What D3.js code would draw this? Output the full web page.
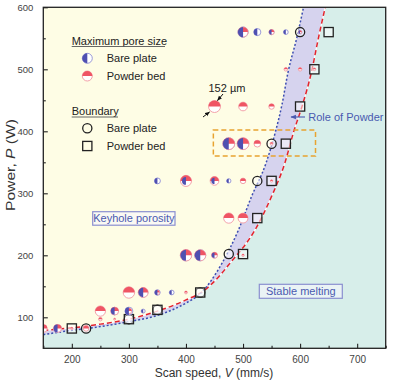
<!DOCTYPE html>
<html><head><meta charset="utf-8">
<script src="https://cdn.jsdelivr.net/npm/d3@7"></script>
<style>body{margin:0;background:#fff}svg{display:block;font-family:"Liberation Sans",Arial,sans-serif}</style>
</head><body><svg id="c" width="400" height="388"></svg>
<script>
// ---- data ----
const xTicks = [200, 300, 400, 500, 600, 700];
const yTicks = [100, 200, 300, 400, 500, 600];
// pore-size points: speed (mm/s), power (W), max pore size (µm) on bare plate / powder bed
const poreSpeed  = [500,525,550,575,600, 575,600,625, 450,500,550, 475,500,525,550, 350,400,450,475,500,550, 475,500, 400,425,450,500, 300,325,350,375,400, 250,275,300,325, 250,275, 150,175,200,225];
const porePower  = [560,560,560,560,560, 500,500,500, 440,440,440, 380,380,380,380, 320,320,320,320,320,320, 260,260, 200,200,200,200, 140,140,140,140,140, 110,110,110,110, 97,97, 82,82,82,82];
const bareSize   = [130,90,65,60,45, 0,0,0, 0,0,0, 150,145,0,0, 75,100,80,55,0,0, 0,0, 140,140,70,0, 0,120,70,60,0, 0,95,100,50, 0,0, 0,100,0,0];
const powderSize = [125,0,65,0,40, 45,45,35, 152,110,70, 150,150,85,35, 0,140,110,0,70,30, 130,125, 145,140,75,30, 145,125,55,0,35, 130,100,70,0, 45,25, 100,100,30,70];
// boundary markers
const bareBoundSpeed = [225,300,350,425,475,525,550,600];
const bareBoundPower = [82,97,112,140,202,320,380,560];
const powderBoundSpeed = [200,300,350,425,500,525,550,575,600,625,650];
const powderBoundPower = [82,97,112,140,202,260,320,380,440,500,560];
// boundary curves
const bareCurveV = [150,200,250,300,350,400,425,463,492,515,540,557,568,579,594,606];
const bareCurveP = [72,79,85,93,103,123,138,187,241,295,348,400,442,496,550,600];
const powderCurveV = [150,200,250,300,350,400,433,455,477,521,550,573,589,604,620,632,644];
const powderCurveP = [79,83,89,97,110,128,144,163,187,241,295,348,400,442,496,550,600];

// ---- scales ----
const svg = d3.select("#c");
const x = d3.scaleLinear().domain([150, 750]).range([43.3, 385.7]);
const y = d3.scaleLinear().domain([50, 600]).range([348.3, 7.3]);
const rScale = d3.scaleLinear().domain([0, 152]).range([0, 6]);

const BLUE = "#4f50b0", BLUE_L = "#8e8fd4", RED = "#ef5564", PINK = "#f4a2aa";

svg.append("defs").append("clipPath").attr("id", "plot")
  .append("rect").attr("x", x(150)).attr("y", y(600)).attr("width", x(750) - x(150)).attr("height", y(50) - y(600));
const defs = svg.select("defs");
const marker = (id, col) => defs.append("marker").attr("id", id).attr("viewBox", "0 0 10 10")
  .attr("refX", 9).attr("refY", 5).attr("markerWidth", 5).attr("markerHeight", 5).attr("orient", "auto-start-reverse")
  .append("path").attr("d", "M0,1 L10,5 L0,9 Z").attr("fill", col);
marker("ak", "#111"); marker("ab", "#4a5ab0");

const g = svg.append("g").attr("clip-path", "url(#plot)");

// backgrounds
g.append("rect").attr("x", x(150)).attr("y", y(600)).attr("width", x(750) - x(150)).attr("height", y(50) - y(600)).attr("fill", "#fefde5");
const line = d3.line().x(d => x(d[0])).y(d => y(d[1])).curve(d3.curveMonotoneX);
const bareCurve = bareCurveV.map((v, i) => [v, bareCurveP[i]]);
const powderCurve = powderCurveV.map((v, i) => [v, powderCurveP[i]]);
const tail = ` L${x(750)},${y(600)} L${x(750)},${y(50)} L${x(150)},${y(50)} Z`;
const bareArea = line(bareCurve) + tail;
const powderArea = line(powderCurve) + tail;
defs.append("clipPath").attr("id", "underPowder").append("path").attr("d", powderArea);
g.append("path").attr("d", bareArea).attr("fill", "#d6d3ee");
g.append("path").attr("d", powderArea).attr("fill", "#d6d3ee");
g.append("path").attr("d", bareArea).attr("fill", "#d7eeea").attr("clip-path", "url(#underPowder)");

// curves
g.append("path").attr("d", line(powderCurve)).attr("fill", "none").attr("stroke", "#fff").attr("stroke-width", 1.2);
g.append("path").attr("d", line(powderCurve)).attr("fill", "none").attr("stroke", "#e3232c").attr("stroke-width", 1.5).attr("stroke-dasharray", "5,3");
g.append("path").attr("d", line(bareCurve)).attr("fill", "none").attr("stroke", "#3b4cb0").attr("stroke-width", 1.5).attr("stroke-dasharray", "2,2");

// orange dashed highlight box
g.append("rect").attr("x", x(448)).attr("y", y(402)).attr("width", x(627) - x(448)).attr("height", y(360) - y(402))
  .attr("fill", "none").attr("stroke", "#e8a331").attr("stroke-width", 1.5).attr("stroke-dasharray", "5,3");

// boundary markers
bareBoundSpeed.forEach((v, i) => g.append("circle").attr("cx", x(v)).attr("cy", y(bareBoundPower[i])).attr("r", 4.6)
  .attr("fill", "#fff").attr("fill-opacity", 0.5).attr("stroke", "#222").attr("stroke-width", 1.3));
powderBoundSpeed.forEach((v, i) => g.append("rect").attr("x", x(v) - 4.6).attr("y", y(powderBoundPower[i]) - 4.6)
  .attr("width", 9.2).attr("height", 9.2).attr("fill", "#fff").attr("fill-opacity", 0.5).attr("stroke", "#222").attr("stroke-width", 1.3));

// pore glyphs
function glyph(sel, cx, cy, rb, rp) {
  const gg = sel.append("g").attr("transform", `translate(${cx},${cy})`);
  if (rb > 0) gg.append("circle").attr("r", rb).attr("fill", "#fff").attr("stroke", BLUE_L).attr("stroke-width", 0.9);
  if (rp > 0) {
    gg.append("circle").attr("r", rp).attr("fill", "#fff").attr("stroke", PINK).attr("stroke-width", 1);
    gg.append("path").attr("d", `M${-rp},0 A${rp},${rp} 0 0 1 ${rp},0 Z`).attr("fill", RED);
  }
  if (rb > 0) gg.append("path").attr("d", `M0,${-rb} A${rb},${rb} 0 0 0 0,${rb} Z`).attr("fill", BLUE);
}
poreSpeed.forEach((v, i) => glyph(g, x(v), y(porePower[i]), rScale(bareSize[i]), rScale(powderSize[i])));

// axes
const ax = svg.append("g");
ax.append("g").attr("transform", `translate(0,${y(50)})`)
  .call(d3.axisBottom(x).tickValues(d3.range(150, 751, 50).filter(d => d % 100 !== 0)).tickSize(-2.5).tickFormat(""));
ax.append("g").attr("class", "xa").attr("transform", `translate(0,${y(50)})`)
  .call(d3.axisBottom(x).tickValues(xTicks).tickSize(-4.5).tickPadding(8).tickFormat(d3.format("d")));
ax.append("g").attr("transform", `translate(${x(150)},0)`)
  .call(d3.axisLeft(y).tickValues(d3.range(150, 551, 100)).tickSize(-2.5).tickFormat(""));
ax.append("g").attr("class", "ya").attr("transform", `translate(${x(150)},0)`)
  .call(d3.axisLeft(y).tickValues(yTicks).tickSize(-4.5).tickPadding(10).tickFormat(d3.format("d")));
ax.selectAll(".domain").remove();
ax.selectAll(".tick line").attr("stroke", "#222").attr("stroke-width", 1.1);
ax.selectAll(".tick text").attr("font-size", 10).attr("fill", "#444").attr("font-family", "Liberation Sans, Arial, sans-serif");
ax.selectAll(".ya .tick text").attr("font-size", 9.5);
svg.append("rect").attr("x", x(150)).attr("y", y(600)).attr("width", x(750) - x(150)).attr("height", y(50) - y(600))
  .attr("fill", "none").attr("stroke", "#222").attr("stroke-width", 1.3);

// axis titles
const xt = svg.append("text").attr("x", 214).attr("y", 377).attr("text-anchor", "middle").attr("font-size", 12).attr("fill", "#333");
xt.append("tspan").text("Scan speed, ");
xt.append("tspan").attr("font-style", "italic").text("V");
xt.append("tspan").text(" (mm/s)");
const yt = svg.append("text").attr("transform", "translate(15,165) rotate(-90)").attr("text-anchor", "middle").attr("font-size", 13).attr("fill", "#333")
  .attr("textLength", 92).attr("lengthAdjust", "spacingAndGlyphs");
yt.append("tspan").text("Power, ");
yt.append("tspan").attr("font-style", "italic").text("P");
yt.append("tspan").text(" (W)");

// legend
const lg = svg.append("g").attr("font-size", 11).attr("fill", "#222");
lg.append("text").attr("x", 71.7).attr("y", 44.5).text("Maximum pore size");
lg.append("line").attr("x1", 71.7).attr("x2", 165).attr("y1", 46.5).attr("y2", 46.5).attr("stroke", "#555").attr("stroke-width", 0.9);
glyph(lg, 87.3, 58.3, 5, 0);
lg.append("text").attr("x", 106.7).attr("y", 62).text("Bare plate");
glyph(lg, 87.3, 76, 0, 5);
lg.append("text").attr("x", 106.7).attr("y", 79.7).text("Powder bed");
lg.append("text").attr("x", 71.7).attr("y", 115).text("Boundary");
lg.append("line").attr("x1", 71.7).attr("x2", 118).attr("y1", 117).attr("y2", 117).attr("stroke", "#555").attr("stroke-width", 0.9);
lg.append("circle").attr("cx", 87.3).attr("cy", 128.3).attr("r", 4.6).attr("fill", "none").attr("stroke", "#222").attr("stroke-width", 1.3);
lg.append("text").attr("x", 106.7).attr("y", 132).text("Bare plate");
lg.append("rect").attr("x", 82.7).attr("y", 141.4).attr("width", 9.2).attr("height", 9.2).attr("fill", "none").attr("stroke", "#222").attr("stroke-width", 1.3);
lg.append("text").attr("x", 106.7).attr("y", 149.7).text("Powder bed");

// annotations
svg.append("text").attr("x", 208.5).attr("y", 92).attr("font-size", 11).attr("fill", "#222").text("152 µm");
svg.append("line").attr("x1", 223).attr("y1", 94).attr("x2", 217.5).attr("y2", 100.5).attr("stroke", "#111").attr("stroke-width", 1).attr("marker-end", "url(#ak)");
svg.append("line").attr("x1", 203).attr("y1", 117).attr("x2", 209.5).attr("y2", 112).attr("stroke", "#111").attr("stroke-width", 1).attr("marker-end", "url(#ak)");
svg.append("text").attr("x", 308.3).attr("y", 120.5).attr("font-size", 11).attr("fill", "#4a5ab0").text("Role of Powder");
svg.append("line").attr("x1", 305).attr("y1", 117).attr("x2", 291).attr("y2", 117).attr("stroke", "#4a5ab0").attr("stroke-width", 1.1).attr("marker-end", "url(#ab)");

function labelBox(x0, y0, w, h, t) {
  svg.append("rect").attr("x", x0).attr("y", y0).attr("width", w).attr("height", h).attr("fill", "#f6f6fb").attr("fill-opacity", 0.6)
    .attr("stroke", "#8a8fd0").attr("stroke-width", 1.2);
  svg.append("text").attr("x", x0 + w / 2).attr("y", y0 + h / 2 + 4).attr("text-anchor", "middle").attr("font-size", 11).attr("fill", "#4a5ab0").text(t);
}
labelBox(92.7, 211.7, 82.3, 13.5, "Keyhole porosity");
labelBox(259.3, 284.3, 83, 14, "Stable melting");
</script></body></html>
